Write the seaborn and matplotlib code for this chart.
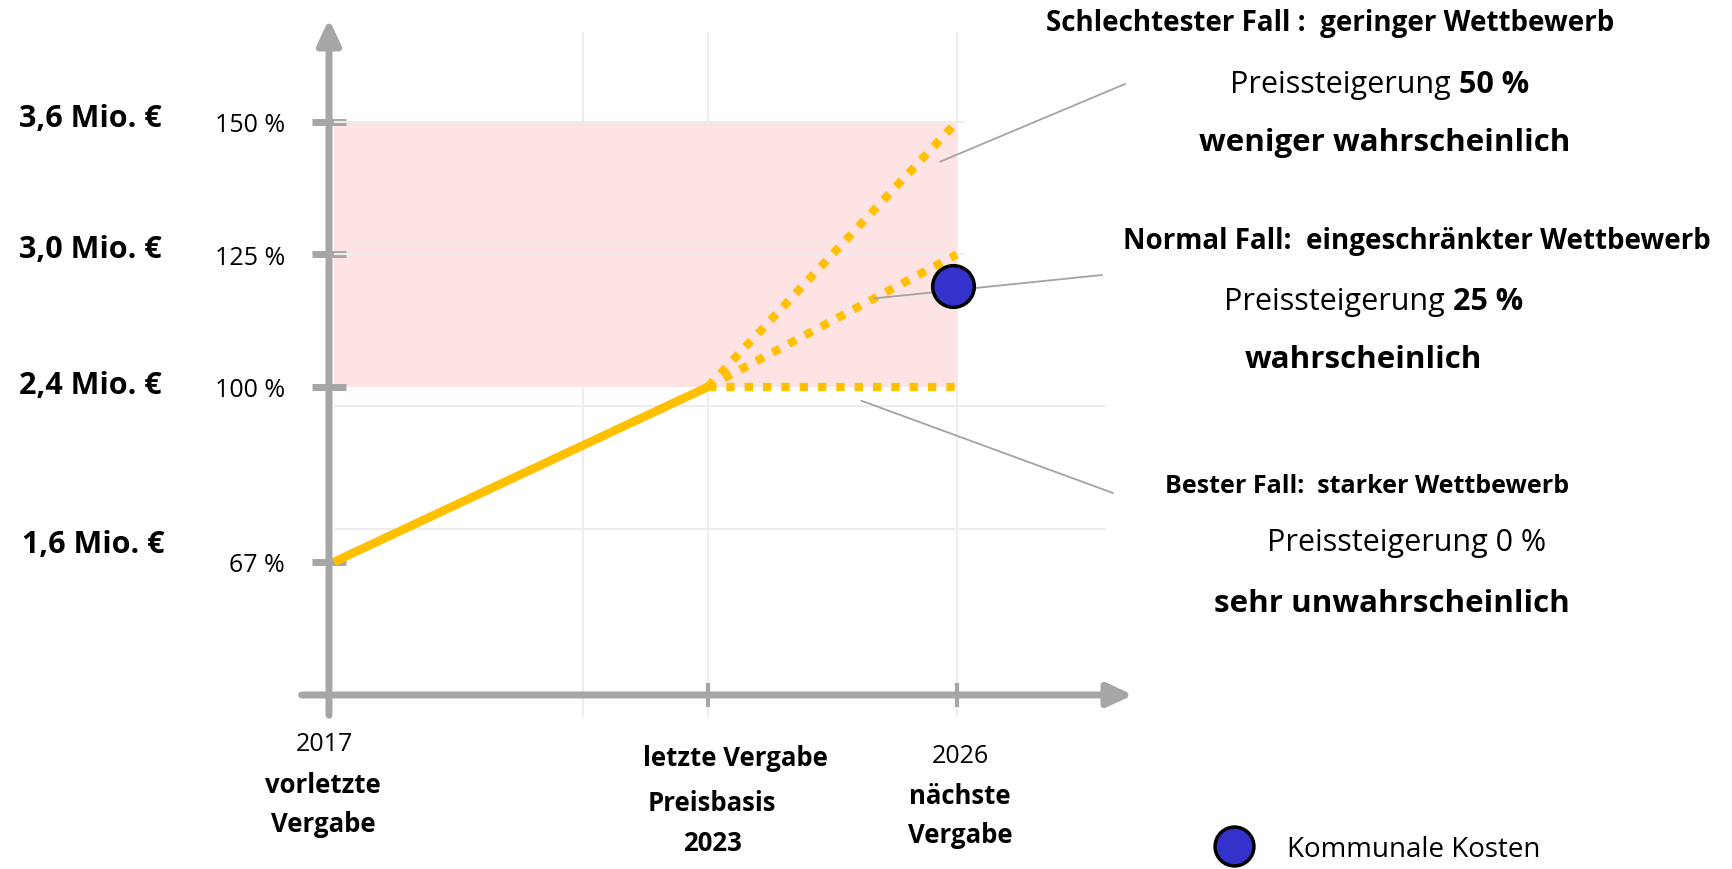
import numpy as np
import matplotlib
matplotlib.use("Agg")
import matplotlib.pyplot as plt
import seaborn as sns
from matplotlib.lines import Line2D

# --- data -------------------------------------------------------------
hist_years = [2017, 2023]
hist_pct = [67, 100]

scenario_years = [2023, 2026]
scenario_start = 100
scenario_end = [150, 125, 100]          # worst / normal / best case in 2026

cost_year = [2025.95]
cost_pct = [119]                        # Kommunale Kosten

band_years = [2017, 2026]
band_low, band_high = 100, 150

y_ticks = [67, 100, 125, 150]
y_tick_labels = ["67 %", "100 %", "125 %", "150 %"]
mio_labels = ["1,6 Mio. €", "2,4 Mio. €", "3,0 Mio. €", "3,6 Mio. €"]
x_ticks = [2023, 2026]

# --- style ------------------------------------------------------------
YELLOW = "#FFC000"
GRAY = "#A6A6A6"
GRID = "#EDEDED"
PINK = "#FDE3E3"
BLUE = "#3333CC"
LEADER = "#A3A3A3"

sns.set_theme(style="white")
plt.rcParams["font.family"] = ["Open Sans", "DejaVu Sans"]
plt.rcParams["text.color"] = "black"
plt.rcParams["ytick.labelcolor"] = "black"

W, H = 1733, 870
fig = plt.figure(figsize=(W / 100, H / 100), dpi=100)


def fxy(x, y):
    # figure pixel (from top-left) -> figure fraction
    return x / W, 1 - y / H


ax = fig.add_axes([329 / W, 1 - 696 / H, (1133 - 329) / W, (696 - 20) / H])


# uneven time axis: 6 years up to 2023 are as wide as 4.5 years after
def fwd(x):
    x = np.asarray(x, dtype=float)
    return np.where(x <= 2023, x - 2017, 6 + (x - 2023) * 4 / 3)


def inv(t):
    t = np.asarray(t, dtype=float)
    return np.where(t <= 6, t + 2017, 2023 + (t - 6) * 0.75)


# light background grid
ax.vlines([2021, 2023, 2026], 37.7, 167, color=GRID, lw=1.5, zorder=0, clip_on=False)
ax.hlines([150, 125], 2017, 2026.1, color=GRID, lw=1.5, zorder=1)
ax.hlines([96.4, 73.2], 2017, 2027.8, color=GRID, lw=1.5, zorder=1)

ax.fill_between(band_years, band_low, band_high, color=PINK, lw=0, zorder=0.5)

sns.lineplot(x=hist_years, y=hist_pct, color=YELLOW, lw=6.2, ax=ax,
             solid_capstyle="butt", zorder=3)
for end in scenario_end:
    sns.lineplot(x=scenario_years, y=[scenario_start, end], color=YELLOW, lw=6,
                 linestyle=(0, (1, 1.2)), dash_capstyle="butt", ax=ax, zorder=3)

sns.scatterplot(x=cost_year, y=cost_pct, s=900, color=BLUE, edgecolor="black",
                linewidth=2.5, zorder=6, ax=ax, legend=False)

ax.set_xscale("function", functions=(fwd, inv))
ax.set_xlim(2016.92, 2028.12)
ax.set_ylim(41.9, 169.4)

for s in ax.spines.values():
    s.set_visible(False)

ax.set_yticks(y_ticks, y_tick_labels)
ax.set_xticks(x_ticks, ["", ""])
ax.tick_params(axis="y", left=True, direction="inout", length=25, width=5,
               color=GRAY, pad=19, labelsize=18, labelcolor="black")
ax.tick_params(axis="x", bottom=True, direction="inout", length=17, width=3,
               color=GRAY)
ax.set_xlabel("")
ax.set_ylabel("")

# axis arrows
head = "-|>,head_width=0.35,head_length=0.75"
ax.annotate("", xy=(0, 1), xytext=(0, -0.03), xycoords="axes fraction",
            arrowprops=dict(arrowstyle=head, lw=5, color=GRAY, mutation_scale=20,
                            shrinkA=0, shrinkB=0), annotation_clip=False)
ax.annotate("", xy=(1, 0), xytext=(-0.034, 0), xycoords="axes fraction",
            arrowprops=dict(arrowstyle=head, lw=5, color=GRAY, mutation_scale=20,
                            shrinkA=0, shrinkB=0), annotation_clip=False)

# leader lines from the scenario lines to their descriptions
leaders = [((2025.8, 142.5), (1125, 85)),
           ((2025.0, 116.7), (1102, 276)),
           ((2024.85, 97.4), (1113, 494))]
for xy, txt in leaders:
    ax.annotate("", xy=xy, xycoords="data", xytext=fxy(*txt),
                textcoords="figure fraction",
                arrowprops=dict(arrowstyle="-", color=LEADER, lw=1.3,
                                shrinkA=0, shrinkB=0), annotation_clip=False)

# money labels left of the axis
mio_pos = [(93, 545), (90, 386), (90, 250), (90, 119)]
for lab, (x, y) in zip(mio_labels, mio_pos):
    fig.text(*fxy(x, y), lab, ha="center", va="center", fontsize=22,
             fontweight="bold")

# labels below the time axis
x_texts = [("2017", 324, 745, "normal", 18), ("vorletzte", 323, 786, "bold", 18.5),
           ("Vergabe", 323, 825, "bold", 18.5), ("letzte Vergabe", 735, 759, "bold", 18.5),
           ("Preisbasis", 712, 804, "bold", 18.5), ("2023", 712, 844, "bold", 18.5),
           ("2026", 960, 757, "normal", 18), ("nächste", 960, 797, "bold", 18.5),
           ("Vergabe", 960, 836, "bold", 18.5)]
for s, x, y, w, fs in x_texts:
    fig.text(*fxy(x, y), s, ha="center", va="center", fontsize=fs, fontweight=w)

# scenario descriptions
right_texts = [("Schlechtester Fall :  geringer Wettbewerb", 1330, 24, "bold", 20),
               ("weniger wahrscheinlich", 1385, 143, "bold", 22.5),
               ("Normal Fall:  eingeschränkter Wettbewerb", 1417, 241, "bold", 20),
               ("wahrscheinlich", 1363, 360, "bold", 22.5),
               ("Bester Fall:  starker Wettbewerb", 1367, 487, "bold", 18),
               ("Preissteigerung 0 %", 1407, 543, "normal", 22),
               ("sehr unwahrscheinlich", 1392, 604, "bold", 22.5)]
for s, x, y, w, fs in right_texts:
    fig.text(*fxy(x, y), s, ha="center", va="center", fontsize=fs, fontweight=w)

for rise, (x, y) in zip(["50 %", "25 %"], [(1230, 93), (1224, 310)]):
    t = fig.text(*fxy(x, y), "Preissteigerung ", ha="left", va="baseline",
                 fontsize=22)
    ax.annotate(rise, xy=(1, fxy(x, y)[1]), xycoords=(t, "figure fraction"),
                ha="left", va="baseline", fontsize=22, fontweight="bold",
                annotation_clip=False)

# legend
handle = Line2D([], [], ls="", marker="o", markersize=28, markerfacecolor=BLUE,
                markeredgecolor="black", markeredgewidth=2.5)
fig.legend([handle], ["Kommunale Kosten"], loc="center left",
           bbox_to_anchor=fxy(1195, 850), frameon=False, fontsize=20,
           handletextpad=0.9, borderaxespad=0)

fig.savefig("out.png", dpi=100)
